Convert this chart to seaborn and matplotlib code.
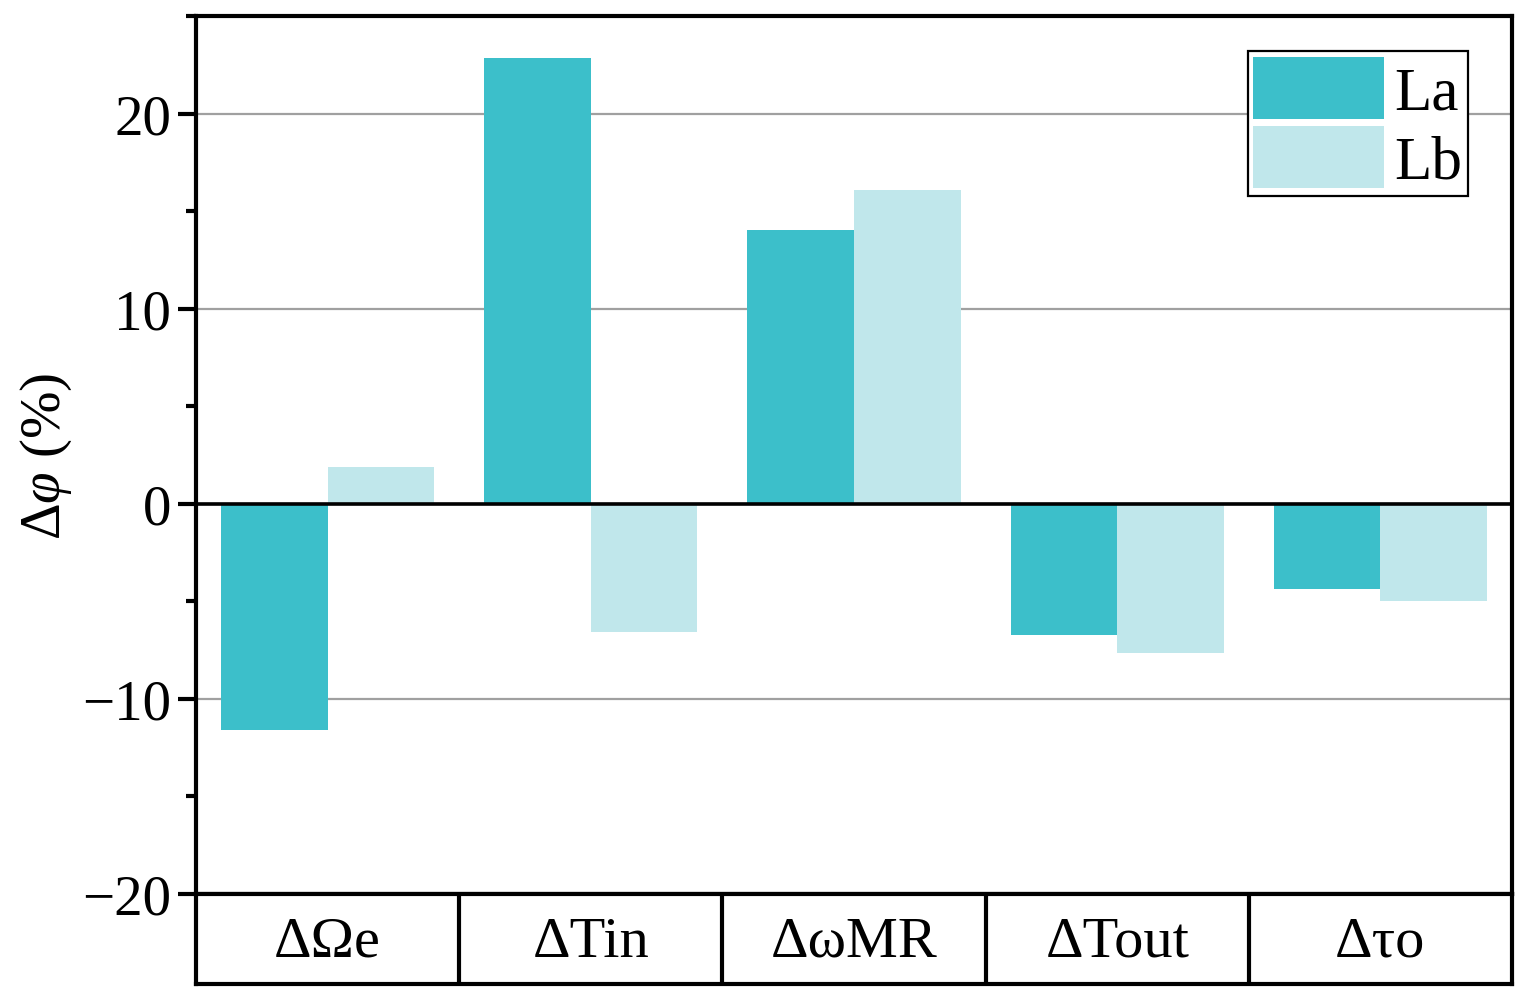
import matplotlib
matplotlib.use("Agg")
import matplotlib.pyplot as plt
import seaborn as sns
import pandas as pd
from matplotlib.ticker import MultipleLocator

categories = ["ΔΩe", "ΔTin", "ΔωMR", "ΔTout", "Δτo"]
series_names = ["La", "Lb"]
la_values = [-11.57, 22.85, 14.05, -6.72, -4.39]
lb_values = [1.9, -6.55, 16.1, -7.64, -5.0]
y_ticks = [-20, -10, 0, 10, 20]
colors = ["#3CBFCA", "#C0E7EB"]

df = pd.DataFrame({
    "category": categories * 2,
    "series": [series_names[0]] * len(categories) + [series_names[1]] * len(categories),
    "value": la_values + lb_values,
})

sns.set_theme(style="white")
plt.rcParams["font.family"] = ["Liberation Serif", "DejaVu Serif"]
plt.rcParams["mathtext.fontset"] = "custom"
plt.rcParams["mathtext.rm"] = "Liberation Serif"
plt.rcParams["mathtext.it"] = "Liberation Serif:italic"
plt.rcParams["axes.unicode_minus"] = True
for k in ["text.color", "axes.labelcolor", "xtick.color", "ytick.color", "axes.edgecolor"]:
    plt.rcParams[k] = "black"

fig = plt.figure(figsize=(15.29, 10.04), dpi=100)
ax = fig.add_axes([196 / 1529, 1 - 895 / 1004, 1316 / 1529, 878 / 1004])
ax2 = fig.add_axes([196 / 1529, 1 - 985 / 1004, 1316 / 1529, 90 / 1004])

sns.barplot(data=df, x="category", y="value", hue="series", palette=colors,
            width=0.81, dodge=True, gap=0, saturation=1, ax=ax, linewidth=0,
            order=categories, hue_order=series_names)

ax.set_xlim(-0.5, len(categories) - 0.5)
ax.set_ylim(-20, 25)
ax.set_yticks(y_ticks)
ax.yaxis.set_minor_locator(MultipleLocator(5))
ax.set_yticklabels([f"{t}".replace("-", "\u2212") for t in y_ticks], fontsize=41, color="black")
ax.set_xticks([])
ax.set_xlabel("")
ax.set_ylabel("Δ$φ$ (%)", fontsize=41, labelpad=6, color="black")
ax.grid(axis="y", which="major", color="#a0a0a0", linewidth=1.6)
ax.set_axisbelow(True)
ax.axhline(0, color="black", linewidth=2.6, zorder=5)
ax.tick_params(axis="y", which="major", direction="out", length=13, width=3,
               left=True, pad=5, colors="black")
ax.tick_params(axis="y", which="minor", direction="out", length=7, width=3, left=True,
               colors="black")
for s in ax.spines.values():
    s.set_color("black")
    s.set_linewidth(3)

leg = ax.legend(loc="upper right", bbox_to_anchor=(0.9666, 0.9601), borderaxespad=0,
                fontsize=44, frameon=True, fancybox=False, framealpha=1,
                handlelength=2.13, handleheight=1.2, labelspacing=0.07,
                borderpad=0.09, handletextpad=0.18, title=None)
leg.get_frame().set_edgecolor("black")
leg.get_frame().set_linewidth(1.6)
for t in leg.get_texts():
    t.set_color("black")

ax2.set_xlim(-0.5, len(categories) - 0.5)
ax2.set_ylim(0, 1)
ax2.set_xticks([])
ax2.set_yticks([])
for s in ax2.spines.values():
    s.set_color("black")
    s.set_linewidth(3)
for i in range(1, len(categories)):
    ax2.axvline(i - 0.5, color="black", linewidth=3)
for i, c in enumerate(categories):
    ax2.text(i, 0.47, c, ha="center", va="center", fontsize=42, color="black")

fig.savefig("out.png", dpi=100)
